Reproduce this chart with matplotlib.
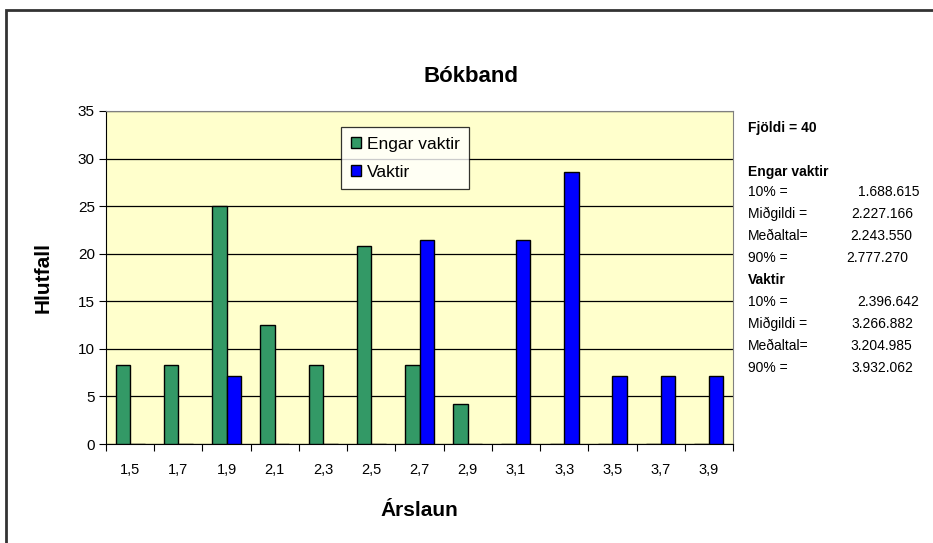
import numpy as np
import matplotlib
matplotlib.use('Agg')
import matplotlib.pyplot as plt
from matplotlib.patches import Rectangle

plt.rcParams['font.family'] = ['Liberation Sans', 'DejaVu Sans']

# gögn
flokkar = ['1,5', '1,7', '1,9', '2,1', '2,3', '2,5', '2,7', '2,9', '3,1', '3,3', '3,5', '3,7', '3,9']
engar_vaktir = [8.33, 8.33, 25.0, 12.5, 8.33, 20.83, 8.33, 4.17, 0, 0, 0, 0, 0]
vaktir = [0, 0, 7.14, 0, 0, 0, 21.43, 0, 21.43, 28.57, 7.14, 7.14, 7.14]

fyrirsagnir = ['Fjöldi = 40', 'Engar vaktir', 'Vaktir']
heiti = ['10% =', 'Miðgildi =', 'Meðaltal=', '90% =']
gildi_engar = ['1.688.615', '2.227.166', '2.243.550', '2.777.270']
gildi_vaktir = ['2.396.642', '3.266.882', '3.204.985', '3.932.062']

W, H = 933, 543
fig = plt.figure(figsize=(W / 100, H / 100), dpi=100)
ax = fig.add_axes([106 / W, 1 - 444 / H, (733 - 106) / W, (444 - 111) / H])
ax.set_facecolor('#FFFFCC')

x = np.arange(len(flokkar))
bw = 0.3
ax.bar(x - bw / 2, engar_vaktir, bw, color='#339966', edgecolor='black', linewidth=1, label='Engar vaktir', zorder=3)
ax.bar(x + bw / 2, vaktir, bw, color='#0000FF', edgecolor='black', linewidth=1, label='Vaktir', zorder=3)

ax.set_xlim(-0.5, len(flokkar) - 0.5)
ax.set_ylim(0, 35)
ax.set_yticks(np.arange(0, 36, 5))
ax.yaxis.grid(True, color='black', linewidth=0.9, zorder=1)
ax.set_axisbelow(True)

# strik á mörkum flokka, merki í miðju
ax.set_xticks(np.arange(-0.5, len(flokkar), 1))
ax.set_xticklabels([])
ax.set_xticks(x, minor=True)
ax.set_xticklabels(flokkar, minor=True, fontsize=10.5)
ax.tick_params(axis='x', which='minor', length=0, pad=14)
ax.tick_params(axis='x', which='major', length=5, direction='out', color='black')
ax.tick_params(axis='y', length=5, direction='out', labelsize=11, pad=3)

for s in ['top', 'right']:
    ax.spines[s].set_color('#808080')
ax.spines['left'].set_color('black')
ax.spines['bottom'].set_color('black')

ax.set_xlabel('Árslaun', fontsize=15, fontweight='bold', labelpad=17)
ax.set_ylabel('Hlutfall', fontsize=15, fontweight='bold', labelpad=18)
fig.text(0.5045, 1 - 77 / H, 'Bókband', ha='center', va='center', fontsize=16, fontweight='bold')

leg = ax.legend(loc='upper left', bbox_to_anchor=(341 / W, 1 - 127 / H), bbox_transform=fig.transFigure,
                fontsize=12.5, frameon=True, fancybox=False, handlelength=0.6, handleheight=0.6,
                handletextpad=0.35, borderpad=0.55, labelspacing=0.75, borderaxespad=0)
leg.get_frame().set_edgecolor('black')
leg.get_frame().set_linewidth(0.9)

# texti til hliðar
tx = 748 / W
gx_engar = [858, 851, 850, 846]
gx_vaktir = [857, 851, 850, 851]


def fy(p):
    return 1 - p / H


fs = 10
fig.text(tx, fy(128), fyrirsagnir[0], ha='left', va='center', fontsize=fs, fontweight='bold')
fig.text(tx, fy(172), fyrirsagnir[1], ha='left', va='center', fontsize=fs, fontweight='bold')
for i in range(4):
    yy = 192 + i * 22
    fig.text(tx, fy(yy), heiti[i], ha='left', va='center', fontsize=fs)
    fig.text(gx_engar[i] / W, fy(yy), gildi_engar[i], ha='left', va='center', fontsize=fs)
fig.text(tx, fy(280), fyrirsagnir[2], ha='left', va='center', fontsize=fs, fontweight='bold')
for i in range(4):
    yy = 302 + i * 22
    fig.text(tx, fy(yy), heiti[i], ha='left', va='center', fontsize=fs)
    fig.text(gx_vaktir[i] / W, fy(yy), gildi_vaktir[i], ha='left', va='center', fontsize=fs)

# rammi utan um myndina
fig.patches.append(Rectangle((6 / W, -0.1), 1.2, 1 - 10 / H + 0.1, transform=fig.transFigure,
                             fill=False, edgecolor='#333333', linewidth=2, clip_on=False))

fig.savefig('out.png', dpi=100)
